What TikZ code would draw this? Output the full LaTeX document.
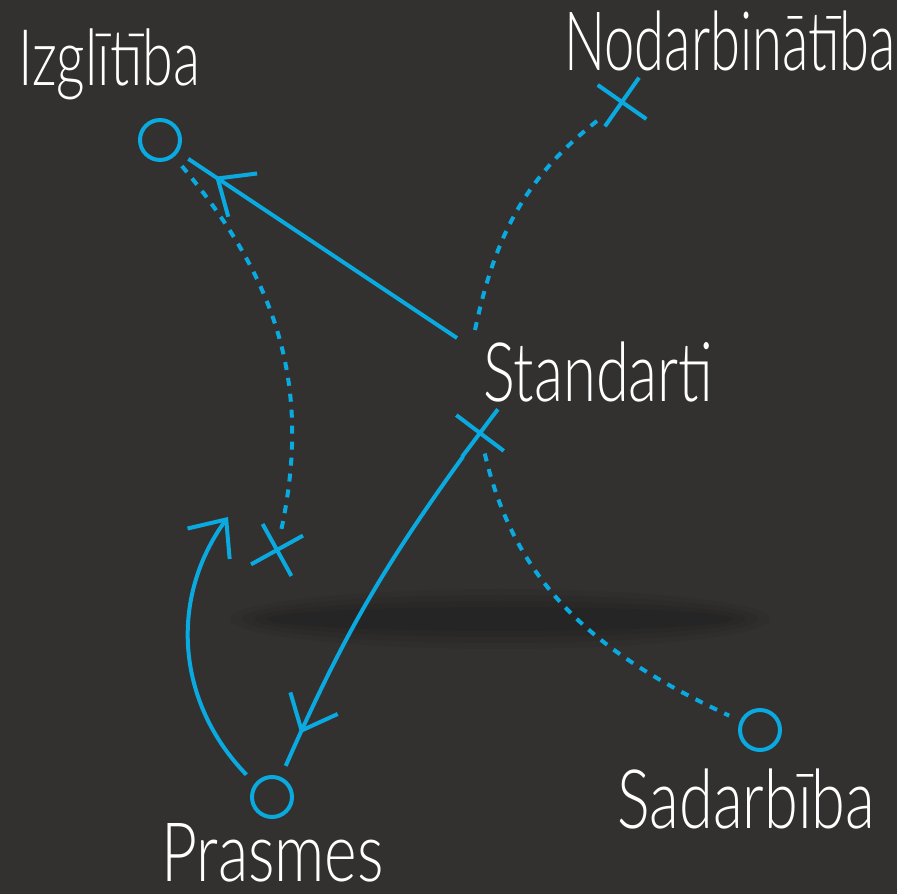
\documentclass[tikz,border=0pt]{standalone}
\usepackage{fontspec}
\newfontfamily\hand[FakeStretch=0.65]{Lato Light}
\usetikzlibrary{arrows.meta,decorations.markings,shapes.misc}
\definecolor{board}{RGB}{50,49,48}
\definecolor{chalkblue}{RGB}{10,170,225}
\tikzset{
  ring/.style={circle,draw=chalkblue,line width=4pt,minimum size=40pt,inner sep=0pt,outer sep=14pt},
  xmark/.style={cross out,draw=chalkblue,line width=4pt,minimum size=28pt,inner sep=0pt,outer sep=7pt},
  word/.style={text=white,font=\hand\fontsize{82}{82}\selectfont,inner sep=0pt,anchor=base west},
  solid link/.style={draw=chalkblue,line width=4pt},
  dotted link/.style={draw=chalkblue,line width=4pt,dash pattern=on 8pt off 8pt},
  barb/.style={-{Straight Barb[length=30pt,width=52pt]}},
  midbarb/.style={decoration={markings,mark=at position #1 with {\arrow{Straight Barb[length=30pt,width=52pt]}}},postaction=decorate},
}
\begin{document}
\begin{tikzpicture}[x=1pt,y=1pt]
\fill[board] (0,0) rectangle (897,894);
\useasboundingbox (0,0) rectangle (897,894);
% soft chalk smudge
\foreach \k in {0,1,2,3} {
  \fill[black,opacity=0.05] (500,275) ellipse ({270-12*\k} and {30-6*\k});
}

\node[ring] (I) at (160,754) {};
\node[ring] (P) at (272,97) {};
\node[ring] (D) at (760,164) {};
\node[xmark,rotate=10] (N) at (622,792) {};
\node[xmark,rotate=8] (S) at (480,461) {};
\node[xmark,rotate=-16] (L) at (277,344) {};

\node[word] (tI) at (18,808) {\fontsize{78}{78}\selectfont\scalebox{1.1}[1]{Izglītība}};
\node[word] (tN) at (564,823) {\scalebox{1.02}[1]{Nodarbinātība}};
\node[word] (tS) at (483,492) {\scalebox{1.12}[1]{Standarti}};
\node[word] (tD) at (617,65) {\scalebox{1.15}[1]{Sadarbība}};
\node[word,text depth=0pt] (tP) at (161,12) {\scalebox{1.17}[1]{Prasmes}};

\coordinate (a1) at (457,556);
\coordinate (a2) at (475,564);
\coordinate (t3) at (228,377);

\draw[solid link,midbarb=0.9] (a1) -- (I);
\draw[solid link,midbarb=0.9] (S) to[bend right=6] (P);
\draw[solid link,barb] (P) to[bend left=40] (t3);
\draw[dotted link] (I) to[out=-50,in=80] (L);
\draw[dotted link] (a2) to[out=78,in=-145] (N);
\draw[dotted link] (S) to[out=-78,in=155] (D);
\end{tikzpicture}
\end{document}
